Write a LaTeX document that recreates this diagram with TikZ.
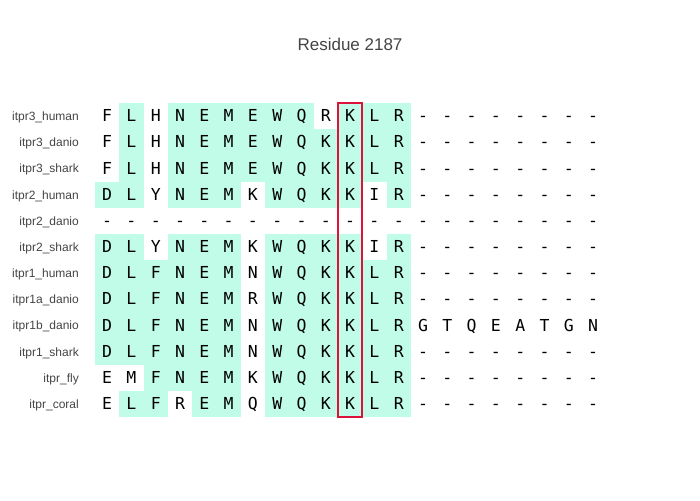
\documentclass[tikz,border=0pt]{standalone}
\usepackage{fontspec}
\setmainfont{Liberation Sans}
\newfontfamily\resfont{DejaVu Sans Mono}
\definecolor{hlc}{RGB}{192,252,232}
\definecolor{txtgray}{RGB}{68,68,68}
\definecolor{boxred}{RGB}{220,20,60}
\tikzset{
  lbl/.style={anchor=base east, inner sep=0pt, text=txtgray, font=\fontsize{12}{14}\selectfont},
  res/.style={anchor=base, inner sep=0pt, text=black, font=\fontsize{16.5}{19}\resfont},
  ttl/.style={anchor=base, inner sep=0pt, text=txtgray, font=\fontsize{17}{20}\selectfont},
  hl/.style={fill=hlc},
  selbox/.style={draw=boxred, line width=2pt, minimum width=24.3pt, minimum height=314pt, inner sep=0pt}
}
\newcommand\seqrow[4]{%
  \node[lbl] (lab#1) at (79, {120.5+26.17*#1}) {#2};
  \foreach \h [count=\c from 0] in {#4} {%
    \ifnum\h=1 \fill[hl] ({95+24.3*\c},{103+26.17*#1}) rectangle ++(24.3,26.17);\fi
  }
  \foreach \ch [count=\c from 0] in {#3} {%
    \node[res] (r#1-\c) at ({107.15+24.3*\c},{121.8+26.17*#1}) {\ch};
  }
}
\begin{document}
\begin{tikzpicture}[x=1pt,y=-1pt]
\useasboundingbox (0,0) rectangle (700,500);
\node[ttl] (title) at (350,51) {Residue 2187};
\seqrow{0}{itpr3\_human}{F,L,H,N,E,M,E,W,Q,R,K,L,R,-,-,-,-,-,-,-,-}{0,1,0,1,1,1,1,1,1,0,1,1,1}
\seqrow{1}{itpr3\_danio}{F,L,H,N,E,M,E,W,Q,K,K,L,R,-,-,-,-,-,-,-,-}{0,1,0,1,1,1,1,1,1,1,1,1,1}
\seqrow{2}{itpr3\_shark}{F,L,H,N,E,M,E,W,Q,K,K,L,R,-,-,-,-,-,-,-,-}{0,1,0,1,1,1,1,1,1,1,1,1,1}
\seqrow{3}{itpr2\_human}{D,L,Y,N,E,M,K,W,Q,K,K,I,R,-,-,-,-,-,-,-,-}{1,1,0,1,1,1,0,1,1,1,1,0,1}
\seqrow{4}{itpr2\_danio}{-,-,-,-,-,-,-,-,-,-,-,-,-,-,-,-,-,-,-,-,-}{0}
\seqrow{5}{itpr2\_shark}{D,L,Y,N,E,M,K,W,Q,K,K,I,R,-,-,-,-,-,-,-,-}{1,1,0,1,1,1,0,1,1,1,1,0,1}
\seqrow{6}{itpr1\_human}{D,L,F,N,E,M,N,W,Q,K,K,L,R,-,-,-,-,-,-,-,-}{1,1,1,1,1,1,0,1,1,1,1,1,1}
\seqrow{7}{itpr1a\_danio}{D,L,F,N,E,M,R,W,Q,K,K,L,R,-,-,-,-,-,-,-,-}{1,1,1,1,1,1,0,1,1,1,1,1,1}
\seqrow{8}{itpr1b\_danio}{D,L,F,N,E,M,N,W,Q,K,K,L,R,G,T,Q,E,A,T,G,N}{1,1,1,1,1,1,0,1,1,1,1,1,1}
\seqrow{9}{itpr1\_shark}{D,L,F,N,E,M,N,W,Q,K,K,L,R,-,-,-,-,-,-,-,-}{1,1,1,1,1,1,0,1,1,1,1,1,1}
\seqrow{10}{itpr\_fly}{E,M,F,N,E,M,K,W,Q,K,K,L,R,-,-,-,-,-,-,-,-}{0,0,1,1,1,1,0,1,1,1,1,1,1}
\seqrow{11}{itpr\_coral}{E,L,F,R,E,M,Q,W,Q,K,K,L,R,-,-,-,-,-,-,-,-}{0,1,1,0,1,1,0,1,1,1,1,1,1}
\node[selbox] (sel) at (350,260) {};
\end{tikzpicture}
\end{document}
